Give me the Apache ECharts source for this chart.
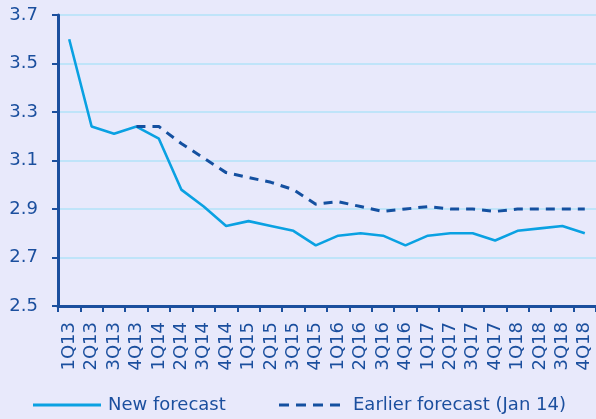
<!DOCTYPE html>
<html>
<head>
<meta charset="utf-8">
<script src="https://cdn.jsdelivr.net/npm/echarts@6/dist/echarts.min.js"></script>
<style>
  html, body { margin: 0; padding: 0; background: #e8e9fb; }
  #chart { width: 596px; height: 419px; }
</style>
</head>
<body>
<div id="chart"></div>
<script>
// Quarterly categories
const quarters = [
  '1Q13','2Q13','3Q13','4Q13','1Q14','2Q14','3Q14','4Q14',
  '1Q15','2Q15','3Q15','4Q15','1Q16','2Q16','3Q16','4Q16',
  '1Q17','2Q17','3Q17','4Q17','1Q18','2Q18','3Q18','4Q18'
];

// Current projection
const newForecast = [
  3.60, 3.24, 3.21, 3.24, 3.19, 2.98, 2.91, 2.83,
  2.85, 2.83, 2.81, 2.75, 2.79, 2.80, 2.79, 2.75,
  2.79, 2.80, 2.80, 2.77, 2.81, 2.82, 2.83, 2.80
];

// Previous projection (Jan 14), starting from 4Q13
const earlierForecast = [
  null, null, null, 3.24, 3.24, 3.17, 3.11, 3.05,
  3.03, 3.01, 2.98, 2.92, 2.93, 2.91, 2.89, 2.90,
  2.91, 2.90, 2.90, 2.89, 2.90, 2.90, 2.90, 2.90
];

// Value axis ticks
const yMin = 2.5, yMax = 3.7, yStep = 0.2;

const navy = '#1b4f9e';
const cyan = '#0aa1e2';
const dashBlue = '#1450a0';
const font = 'DejaVu Sans';

// Legend keys: a plain bar and a row of four dashes
const solidKey = 'path://M0,0h68v3h-68z';
const dashedKey = 'path://M0,0h10v3h-10z M17,0h10v3h-10z M34,0h10v3h-10z M51,0h10v3h-10z';

const chart = echarts.init(document.getElementById('chart'), null, { renderer: 'canvas' });

chart.setOption({
  backgroundColor: '#e8e9fb',
  animation: false,
  textStyle: { fontFamily: font },
  grid: { left: 58, top: 15, width: 539, height: 291, containLabel: false },
  xAxis: {
    type: 'category',
    data: quarters,
    boundaryGap: true,
    axisLine: { lineStyle: { color: navy, width: 3 } },
    axisTick: { show: true, length: 6, lineStyle: { color: navy, width: 2 }, alignWithLabel: false },
    axisLabel: {
      rotate: 90, interval: 0, margin: 16,
      color: navy, fontSize: 18, fontFamily: font
    },
    splitLine: { show: false }
  },
  yAxis: {
    type: 'value',
    min: yMin, max: yMax, interval: yStep,
    axisLine: { show: true, lineStyle: { color: navy, width: 3 } },
    axisTick: { show: true, length: 6, lineStyle: { color: navy, width: 2 } },
    axisLabel: {
      margin: 20, color: navy, fontSize: 18, fontFamily: font,
      formatter: v => v.toFixed(1)
    },
    splitLine: { show: true, lineStyle: { color: '#b2e2f8', width: 1.5 } }
  },
  legend: [
    {
      data: [{ name: 'New forecast', icon: solidKey, itemStyle: { color: cyan } }],
      left: 28, top: 391,
      itemWidth: 68, itemHeight: 3, itemGap: 0,
      textStyle: { color: navy, fontSize: 18, fontFamily: font, padding: [0, 0, 0, 2] }
    },
    {
      data: [{ name: 'Earlier forecast (Jan 14)', icon: dashedKey, itemStyle: { color: dashBlue } }],
      left: 274, top: 391,
      itemWidth: 61, itemHeight: 3, itemGap: 0,
      textStyle: { color: navy, fontSize: 18, fontFamily: font, padding: [0, 0, 0, 8] }
    }
  ],
  series: [
    {
      name: 'New forecast',
      type: 'line',
      data: newForecast,
      symbol: 'none',
      lineStyle: { color: cyan, width: 2.6 },
      itemStyle: { color: cyan },
      z: 2
    },
    {
      name: 'Earlier forecast (Jan 14)',
      type: 'line',
      data: earlierForecast,
      symbol: 'none',
      connectNulls: false,
      lineStyle: { color: dashBlue, width: 3, type: [9, 7] },
      itemStyle: { color: dashBlue },
      z: 3
    }
  ]
});
</script>
</body>
</html>
